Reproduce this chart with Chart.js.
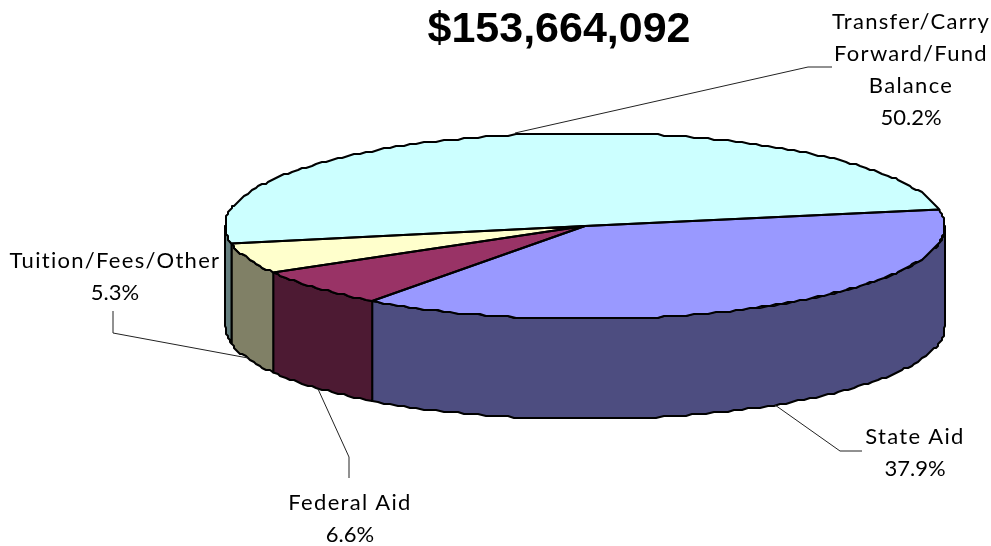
<!DOCTYPE html>
<html>
<head>
<meta charset="utf-8">
<title>Revenue</title>
<script src="https://cdn.jsdelivr.net/npm/chart.js@4"></script>
<style>
  html, body { margin: 0; padding: 0; background: #fff; }
  canvas { display: block; }
</style>
</head>
<body>
<canvas id="revenuePie" width="991" height="546"></canvas>
<script>
var totalLabel = '$153,664,092'
var categories = ['State Aid', 'Federal Aid', 'Tuition/Fees/Other', 'Transfer/Carry Forward/Fund Balance']
var percents = [37.9, 6.6, 5.3, 50.2]
var topColors = ['#9999FF', '#993366', '#FFFFCC', '#CCFFFF']
var wallColors = ['#4D4D80', '#4D1A33', '#808066', '#668080']
var labelLines = [['State Aid'], ['Federal Aid'], ['Tuition/Fees/Other'], ['Transfer/Carry', 'Forward/Fund', 'Balance']]

// pie is squashed into an ellipse, with a wall hanging below the front half
var squash = 93 / 360
var depth = 100
var gridStep = 2

// label block: centre x, baseline of the first line
var labelAnchors = [[915, 444], [350, 510], [115, 268], [911, 29]]
var leaders = [
  [[775, 405], [840, 451], [862, 451]],
  [[318, 389], [349, 457], [349, 478]],
  [[248, 358], [113, 333], [113, 311]],
  [[515, 133], [808, 67], [832, 67]]
]

// walks the rim in coarse steps so the edge has the stepped look of a low-res plot
function rimPoints(arc, from, to, dy) {
  var pts = []
  var rx = arc.outerRadius, ry = rx * squash
  var n = Math.max(2, Math.ceil((to - from) / (Math.PI / 150)))
  for (var i = 0; i <= n; i++) {
    var a = from + (to - from) * i / n
    var x = arc.x + Math.cos(a) * rx
    var y = arc.y + Math.sin(a) * ry
    if (i > 0 && i < n) {
      x = Math.round(x / gridStep) * gridStep
      y = Math.round(y / gridStep) * gridStep
    }
    pts.push([x, y + dy])
  }
  return pts
}

function trace(ctx, pts, moveFirst) {
  pts.forEach(function (p, i) {
    if (i === 0 && moveFirst) ctx.moveTo(p[0], p[1])
    else ctx.lineTo(p[0], p[1])
  })
}

var pie3d = {
  id: 'pie3d',
  beforeDatasetsDraw: function (chart) {
    var ctx = chart.ctx
    var arcs = chart.getDatasetMeta(0).data
    ctx.save()
    ctx.lineJoin = 'round'
    ctx.lineWidth = 2
    ctx.strokeStyle = '#000'
    // only the part of each slice on the front half of the rim shows a wall
    arcs.forEach(function (arc, i) {
      var from = Math.max(arc.startAngle, 0)
      var to = Math.min(arc.endAngle, Math.PI)
      if (to <= from) return
      ctx.beginPath()
      trace(ctx, rimPoints(arc, from, to, 0), true)
      trace(ctx, rimPoints(arc, from, to, depth).reverse(), false)
      ctx.closePath()
      ctx.fillStyle = wallColors[i]
      ctx.fill()
      ctx.stroke()
    })
    ctx.restore()

    var c = arcs[0]
    ctx.save()
    ctx.translate(c.x, c.y)
    ctx.scale(1, squash)
    ctx.translate(-c.x, -c.y)
  },
  afterDatasetsDraw: function (chart) {
    var ctx = chart.ctx
    ctx.restore()
    ctx.save()
    ctx.lineJoin = 'round'
    ctx.lineWidth = 2
    ctx.strokeStyle = '#000'
    chart.getDatasetMeta(0).data.forEach(function (arc) {
      ctx.beginPath()
      ctx.moveTo(arc.x, arc.y)
      trace(ctx, rimPoints(arc, arc.startAngle, arc.endAngle, 0), false)
      ctx.closePath()
      ctx.stroke()
    })
    ctx.restore()
  },
  afterDraw: function (chart) {
    var ctx = chart.ctx
    ctx.save()
    ctx.fillStyle = '#000'
    ctx.textAlign = 'center'
    ctx.textBaseline = 'alphabetic'

    ctx.font = 'bold 43px "Liberation Sans"'
    ctx.fillText(totalLabel, 559, 42)

    categories.forEach(function (name, i) {
      var lines = labelLines[i]
      var x = labelAnchors[i][0], y = labelAnchors[i][1]
      ctx.font = '22px Lato'
      ctx.letterSpacing = '1.3px'
      lines.forEach(function (line, k) {
        ctx.fillText(line, x, y + k * 32)
      })
      ctx.letterSpacing = '0px'
      ctx.fillText(percents[i].toFixed(1) + '%', x, y + lines.length * 32)
    })

    ctx.strokeStyle = '#222'
    ctx.lineWidth = 1
    leaders.forEach(function (pts) {
      ctx.beginPath()
      trace(ctx, pts, true)
      ctx.stroke()
    })
    ctx.restore()
  }
}

new Chart(document.getElementById('revenuePie'), {
  type: 'pie',
  data: {
    labels: categories,
    datasets: [{
      data: percents,
      backgroundColor: topColors,
      borderWidth: 0
    }]
  },
  options: {
    responsive: false,
    animation: false,
    rotation: 79.8,
    radius: 360,
    // chart area is centred on the pie's hub
    layout: { padding: { left: 179, bottom: 94 } },
    events: [],
    plugins: {
      legend: { display: false },
      tooltip: { enabled: false }
    }
  },
  plugins: [pie3d]
})
</script>
</body>
</html>
